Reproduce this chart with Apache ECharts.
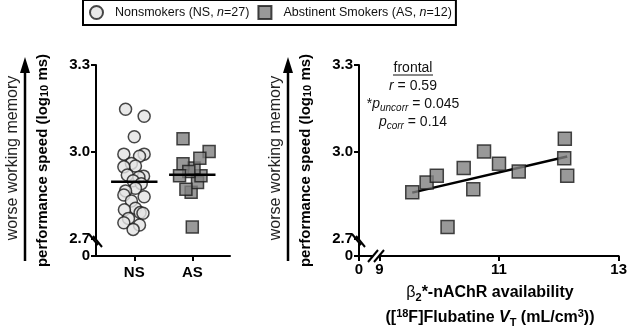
<!DOCTYPE html>
<html>
<head>
<meta charset="utf-8">
<script src="https://cdn.jsdelivr.net/npm/echarts@6.0.0/dist/echarts.min.js"></script>
<style>
  html, body { margin: 0; padding: 0; background: #fff; }
  #chart { width: 630px; height: 331px; }
</style>
</head>
<body>
<div id="chart"></div>
<script>
// group names (legend)
var nsName = 'Nonsmokers (NS, n=27)';
var asName = 'Abstinent Smokers (AS, n=12)';

// nonsmokers: performance speed (log10 ms) and horizontal jitter around NS
var nsSpeed = [3.147, 3.123, 3.052, 2.992, 2.992, 2.985, 2.960, 2.951, 2.948, 2.920, 2.916, 2.912, 2.900, 2.890,
               2.874, 2.865, 2.851, 2.845, 2.830, 2.805, 2.800, 2.790, 2.788, 2.770, 2.755, 2.747, 2.732];
var nsJitter = [-0.15, 0.17, 0.0, -0.18, 0.17, 0.09, -0.05, 0.02, -0.18, -0.12, 0.16, 0.08, -0.02, 0.12,
                0.02, -0.15, -0.18, 0.17, -0.05, 0.02, -0.17, 0.10, 0.15, -0.10, -0.18, 0.09, -0.02];

// abstinent smokers: speed, [18F]Flubatine VT, jitter for the left panel
var asSpeed  = [2.860, 2.894, 2.917, 2.740, 2.944, 2.871, 3.001, 2.959, 2.932, 3.045, 2.978, 2.917];
var asVT     = [9.55, 9.79, 9.96, 10.14, 10.41, 10.57, 10.75, 11.00, 11.33, 12.10, 12.09, 12.14];
var asJitter = [-0.02, 0.09, 0.15, 0.0, 0.03, -0.11, 0.29, -0.16, -0.06, -0.16, 0.13, -0.22];

// group means (horizontal bars)
var nsMean = 2.897;
var asMean = 2.921;

// regression line endpoints (frontal)
var fitX = [9.55, 12.14];
var fitY = [2.859, 2.984];

// axis ticks
var yTicks = [2.64, 2.7, 3.0, 3.3];     // 2.64 is the broken "0"
var groupTicks = [1, 2];
var groupLabels = ['NS', 'AS'];
var vtTicks = [8.66, 9, 11, 13];         // 8.66 is the broken "0"

var FONT = 'Liberation Sans, Arial, sans-serif';

var myChart = echarts.init(document.getElementById('chart'));

function axisBase() {
    return {
        axisLine: { show: true, onZero: false, lineStyle: { color: '#000', width: 2 } },
        splitLine: { show: false },
        axisTick: { show: true, length: 5, lineStyle: { color: '#000', width: 2 } },
        axisLabel: { color: '#000', fontWeight: 'bold', fontSize: 15, fontFamily: FONT, margin: 6 }
    };
}

function yAxisFor(idx) {
    var a = axisBase();
    a.type = 'value';
    a.gridIndex = idx;
    a.min = yTicks[0];
    a.max = yTicks[yTicks.length - 1];
    a.axisTick.customValues = yTicks;
    a.axisLabel.customValues = yTicks;
    a.axisLabel.formatter = function (v) {
        return Math.abs(v - yTicks[0]) < 1e-6 ? '0' : v.toFixed(1);
    };
    a.name = 'performance speed (log{sub|10} ms)';
    a.nameLocation = 'middle';
    a.nameRotate = 90;
    a.nameGap = 46;
    a.nameTextStyle = {
        color: '#000', fontWeight: 'bold', fontSize: 15, fontFamily: FONT,
        rich: { sub: { fontSize: 11, fontWeight: 'bold', fontFamily: FONT, verticalAlign: 'bottom', lineHeight: 11 } }
    };
    return a;
}

var xLeft = axisBase();
xLeft.type = 'value';
xLeft.gridIndex = 0;
xLeft.min = 0.34;
xLeft.max = 2.65;
xLeft.axisTick.customValues = groupTicks;
xLeft.axisLabel.customValues = groupTicks;
xLeft.axisLabel.formatter = function (v) { return groupLabels[Math.round(v) - 1]; };
xLeft.axisLabel.margin = 9;

var xRight = axisBase();
xRight.type = 'value';
xRight.gridIndex = 1;
xRight.min = vtTicks[0];
xRight.max = vtTicks[vtTicks.length - 1];
xRight.axisTick.customValues = vtTicks;
xRight.axisLabel.customValues = vtTicks;
xRight.axisLabel.formatter = function (v) {
    return Math.abs(v - vtTicks[0]) < 1e-6 ? '0' : String(v);
};

var circleStyle = { color: '#e3e3e3', borderColor: '#1a1a1a', borderWidth: 1.5 };
var squareStyle = { color: '#7f7f7f', borderColor: '#1a1a1a', borderWidth: 1.5 };

// arrow + "worse working memory" at a given x offset
function sideLabel(dx) {
    return [
        { type: 'line', shape: { x1: 25 + dx, y1: 261, x2: 25 + dx, y2: 70 },
          style: { stroke: '#000', lineWidth: 2.5 } },
        { type: 'polygon', shape: { points: [[25 + dx, 57], [20 + dx, 73], [30 + dx, 73]] },
          style: { fill: '#000' } },
        { type: 'text', x: 13 + dx, y: 158, rotation: Math.PI / 2,
          style: { text: 'worse working memory', fill: '#222', fontSize: 16, fontFamily: FONT,
                   textAlign: 'center', textVerticalAlign: 'middle' } }
    ];
}

// "\\" break marks crossing a vertical axis at x
function yBreak(x) {
    return [
        { type: 'polygon', z: 100, shape: { points: [[x - 7, 234], [x + 2, 245], [x + 6, 247], [x - 3, 236]] },
          style: { fill: '#fff' } },
        { type: 'line', z: 101, shape: { x1: x - 7, y1: 234, x2: x + 2, y2: 245 }, style: { stroke: '#000', lineWidth: 2 } },
        { type: 'line', z: 101, shape: { x1: x - 3, y1: 236, x2: x + 6, y2: 247 }, style: { stroke: '#000', lineWidth: 2 } }
    ];
}

var richNote = {
    i: { fontStyle: 'italic', fontSize: 14, fontFamily: FONT, lineHeight: 18 },
    isub: { fontStyle: 'italic', fontSize: 10, fontFamily: FONT, verticalAlign: 'bottom', lineHeight: 10 }
};
function note(txt, y) {
    return { type: 'text', x: 413, y: y, z: 50,
             style: { text: txt, fill: '#111', fontSize: 14, fontFamily: FONT,
                      textAlign: 'center', textVerticalAlign: 'middle', rich: richNote } };
}

var richTitle = {
    sub: { fontSize: 11, fontWeight: 'bold', fontFamily: FONT, verticalAlign: 'bottom', lineHeight: 11 },
    sup: { fontSize: 11, fontWeight: 'bold', fontFamily: FONT, verticalAlign: 'top', lineHeight: 11 },
    i: { fontSize: 16, fontWeight: 'bold', fontStyle: 'italic', fontFamily: FONT, lineHeight: 20 },
    isub: { fontSize: 11, fontWeight: 'bold', fontFamily: FONT, verticalAlign: 'bottom', lineHeight: 11 },
    beta: { fontSize: 16, fontWeight: 'normal', fontFamily: FONT, lineHeight: 20 }
};

var graphics = []
    .concat(sideLabel(0), sideLabel(263), yBreak(96), yBreak(359))
    .concat([
        // "//" break on the right x-axis
        { type: 'polygon', z: 100, shape: { points: [[368, 262], [378, 250], [384, 250], [374, 262]] }, style: { fill: '#fff' } },
        { type: 'line', z: 101, shape: { x1: 368, y1: 262, x2: 378, y2: 250 }, style: { stroke: '#000', lineWidth: 2 } },
        { type: 'line', z: 101, shape: { x1: 374, y1: 262, x2: 384, y2: 250 }, style: { stroke: '#000', lineWidth: 2 } },
        note('frontal', 68),
        { type: 'line', shape: { x1: 393, y1: 75, x2: 433, y2: 75 }, style: { stroke: '#111', lineWidth: 1 } },
        note('{i|r} = 0.59', 86),
        note('*{i|p}{isub|uncorr} = 0.045', 104),
        note('{i|p}{isub|corr} = 0.14', 122),
        { type: 'text', x: 490, y: 293,
          style: { text: '{beta|β}{sub|2}*-nAChR availability', fill: '#000', fontSize: 16, fontWeight: 'bold',
                   fontFamily: FONT, textAlign: 'center', textVerticalAlign: 'middle', rich: richTitle } },
        { type: 'text', x: 490, y: 318,
          style: { text: '([{sup|18}F]Flubatine {i|V}{isub|T} (mL/cm{sup|3}))', fill: '#000', fontSize: 16, fontWeight: 'bold',
                   fontFamily: FONT, textAlign: 'center', textVerticalAlign: 'middle', rich: richTitle } }
    ]);

var option = {
    animation: false,
    backgroundColor: '#fff',
    legend: {
        left: 83, top: 0,
        data: [{ name: nsName, icon: 'circle' }, { name: asName, icon: 'rect' }],
        borderColor: '#000', borderWidth: 2, padding: [5, 4, 5, 6],
        itemWidth: 13, itemHeight: 13, itemGap: 8,
        formatter: function (name) { return name.replace('n=', '{i|n}='); },
        textStyle: { color: '#111', fontSize: 12.5, fontFamily: FONT, padding: [0, 0, 0, 7],
                     rich: { i: { fontStyle: 'italic', fontSize: 12.5, fontFamily: FONT } } }
    },
    grid: [
        { left: 96, top: 65, width: 134, height: 191 },
        { left: 359, top: 65, width: 263, height: 191 }
    ],
    xAxis: [xLeft, xRight],
    yAxis: [yAxisFor(0), yAxisFor(1)],
    graphic: graphics,
    series: [
        {
            name: nsName, type: 'scatter', xAxisIndex: 0, yAxisIndex: 0,
            symbol: 'circle', symbolSize: 12, itemStyle: circleStyle, z: 3,
            data: nsSpeed.map(function (y, i) { return [groupTicks[0] + nsJitter[i], y]; })
        },
        {
            name: asName, type: 'scatter', xAxisIndex: 0, yAxisIndex: 0,
            symbol: 'rect', symbolSize: 12, itemStyle: squareStyle, z: 3,
            data: asSpeed.map(function (y, i) { return [groupTicks[1] + asJitter[i], y]; })
        },
        {
            name: 'NS mean', type: 'line', xAxisIndex: 0, yAxisIndex: 0, symbol: 'none', z: 5,
            lineStyle: { color: '#000', width: 2.5 },
            data: [[groupTicks[0] - 0.4, nsMean], [groupTicks[0] + 0.4, nsMean]]
        },
        {
            name: 'AS mean', type: 'line', xAxisIndex: 0, yAxisIndex: 0, symbol: 'none', z: 5,
            lineStyle: { color: '#000', width: 2.5 },
            data: [[groupTicks[1] - 0.4, asMean], [groupTicks[1] + 0.4, asMean]]
        },
        {
            name: 'fit', type: 'line', xAxisIndex: 1, yAxisIndex: 1, symbol: 'none', z: 2,
            lineStyle: { color: '#000', width: 2.5 },
            data: [[fitX[0], fitY[0]], [fitX[1], fitY[1]]]
        },
        {
            name: asName, type: 'scatter', xAxisIndex: 1, yAxisIndex: 1,
            symbol: 'rect', symbolSize: 13, itemStyle: squareStyle, z: 3,
            data: asVT.map(function (x, i) { return [x, asSpeed[i]]; })
        }
    ]
};

myChart.setOption(option);
</script>
</body>
</html>
